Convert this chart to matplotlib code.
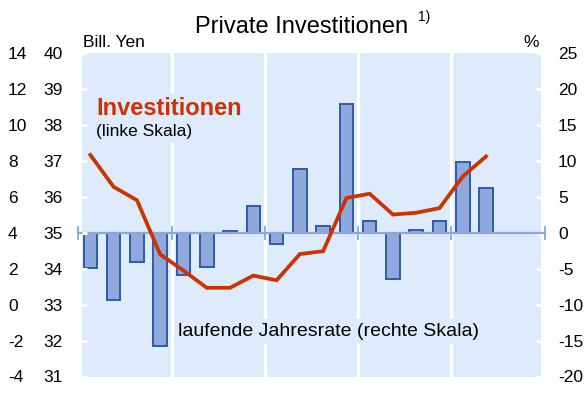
import numpy as np
import matplotlib
matplotlib.use('Agg')
import matplotlib.pyplot as plt

plt.rcParams['font.family'] = ['Liberation Sans', 'DejaVu Sans']
plt.rcParams['axes.unicode_minus'] = False

# ---- data ----
years = ['2001', '2002', '2003', '2004', '2005']
quarters = ['2001Q1', '2001Q2', '2001Q3', '2001Q4',
            '2002Q1', '2002Q2', '2002Q3', '2002Q4',
            '2003Q1', '2003Q2', '2003Q3', '2003Q4',
            '2004Q1', '2004Q2', '2004Q3', '2004Q4',
            '2005Q1', '2005Q2']
# laufende Jahresrate (%), right scale
rate = [-4.9, -9.4, -4.1, -15.8,
        -5.9, -4.7, 0.2, 3.7,
        -1.6, 8.9, 1.0, 18.0,
        1.6, -6.4, 0.45, 1.6,
        9.9, 6.2]
# Investitionen (Bill. Yen), left scale
invest = [37.17, 36.28, 35.91, 34.40,
          33.95, 33.47, 33.47, 33.81,
          33.68, 34.41, 34.49, 35.97,
          36.09, 35.51, 35.56, 35.69,
          36.57, 37.13]
left_ticks = [31, 32, 33, 34, 35, 36, 37, 38, 39, 40]
outer_ticks = [-4, -2, 0, 2, 4, 6, 8, 10, 12, 14]
right_ticks = [-20, -15, -10, -5, 0, 5, 10, 15, 20, 25]

# ---- style ----
BG = '#DDEBFC'
BAR_FC = '#8FA9DC'
BAR_EC = '#2F5CA8'
LINE_C = '#CC3300'
ZERO_C = '#8EA6DA'

fig = plt.figure(figsize=(5.87, 4.12), dpi=100)
rect = [82 / 587, (412 - 376.5) / 412, (541 - 82) / 587, (376.5 - 53.3) / 412]
ax = fig.add_axes(rect)
ax2 = ax.twinx()
ax3 = ax.twinx()
ax.set_zorder(3)
ax.patch.set_visible(False)
ax3.set_zorder(2)
ax3.patch.set_visible(False)
ax2.set_zorder(1)
ax2.patch.set_facecolor('white')

x = np.arange(len(quarters))
xmin, xmax = -0.36, 19.36
for a in (ax, ax2, ax3):
    a.set_xlim(xmin, xmax)
    for s in a.spines.values():
        s.set_visible(False)

ax.set_ylim(left_ticks[0], left_ticks[-1])
ax2.set_ylim(right_ticks[0], right_ticks[-1])
ax3.set_ylim(outer_ticks[0], outer_ticks[-1])

# background panels
ax2.axvspan(xmin, xmax, color=BG, zorder=0, lw=0)
seps = np.arange(1, len(years)) * 4 - 0.5
for s in seps:
    ax2.axvline(s, color='white', lw=2.4, zorder=1)

# bars (right scale)
ax2.bar(x, rate, width=0.58, color=BAR_FC, edgecolor=BAR_EC, linewidth=1.4, zorder=3)

# zero line with small ticks
ext = 0.17
ax2.plot([xmin - ext, xmax + ext], [0, 0], color=ZERO_C, lw=1.6, zorder=4, clip_on=False)
tick_x = np.concatenate([[xmin - ext], seps, [xmax + ext]])
ax2.plot(tick_x, np.zeros_like(tick_x), ls='none', marker='|', ms=10, mew=1.3,
         color=ZERO_C, zorder=4, clip_on=False)

# line (left scale)
ax.plot(x, invest, color=LINE_C, lw=2.7, zorder=5, solid_joinstyle='miter')

# ticks
ax.set_yticks(left_ticks)
ax.tick_params(axis='y', direction='in', length=3.5, width=2.2, color='white',
               labelsize=12.5, pad=13.7)
ax2.set_yticks(right_ticks)
ax2.tick_params(axis='y', direction='in', length=3.5, width=2.2, color='white',
                labelsize=12.5, pad=12.2)
ax3.yaxis.tick_left()
ax3.set_yticks(outer_ticks)
ax3.tick_params(axis='y', length=0, labelsize=12.5, pad=53.3)
for tl in ax3.get_yticklabels():
    tl.set_horizontalalignment('left')

year_pos = np.arange(len(years)) * 4 + 2
ax.set_xticks(year_pos)
ax.set_xticklabels(years)
ax.tick_params(axis='x', length=0, width=0, labelsize=14, pad=10)
ax2.tick_params(axis='x', length=0, width=0, labelbottom=False)
ax3.tick_params(axis='x', length=0, width=0, labelbottom=False)
ax2.set_xticks([])
ax3.set_xticks([])

# texts
ax2.text((96 - 82) / 459, (376.5 - 115) / 323.2, 'Investitionen',
         transform=ax2.transAxes, fontsize=17, fontweight='bold', color=LINE_C,
         va='baseline', ha='left', zorder=2,
         bbox=dict(facecolor=BG, edgecolor='none', pad=3))
ax2.text((96 - 82) / 459, (376.5 - 136) / 323.2, '(linke Skala)',
         transform=ax2.transAxes, fontsize=12.5, color='black',
         va='baseline', ha='left', zorder=2,
         bbox=dict(facecolor=BG, edgecolor='none', pad=3))
ax2.text((178 - 82) / 459, (376.5 - 336) / 323.2, 'laufende Jahresrate (rechte Skala)',
         transform=ax2.transAxes, fontsize=14, color='black',
         va='baseline', ha='left', zorder=2,
         bbox=dict(facecolor=BG, edgecolor='none', pad=3))

fig.text(302 / 587, (412 - 33) / 412, 'Private Investitionen', fontsize=17,
         ha='center', va='baseline')
fig.text(418 / 587, (412 - 21) / 412, '1)', fontsize=10, ha='left', va='baseline')
fig.text(83 / 587, (412 - 47) / 412, 'Bill. Yen', fontsize=12.5, ha='left', va='baseline')
fig.text(539 / 587, (412 - 47) / 412, '%', fontsize=12.5, ha='right', va='baseline')

fig.savefig('out.png', dpi=100)
